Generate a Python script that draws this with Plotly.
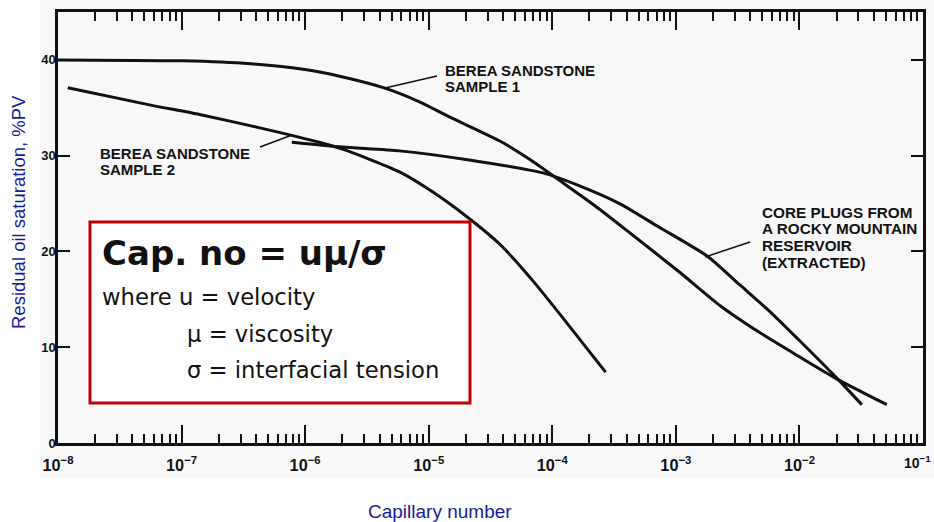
import plotly.graph_objects as go

# Residual oil saturation (%PV) against capillary number
sample1_nc = [1.0e-8, 1.03e-7, 3.6e-7, 1.0e-6, 1.9e-6, 4.3e-6, 8.5e-6, 1.5e-5,
              3.8e-5, 6.6e-5, 1.15e-4, 2.2e-4, 4.0e-4, 1.08e-3, 2.3e-3, 4.8e-3,
              1.0e-2, 2.0e-2, 5.1e-2]
sample1_sor = [40.0, 39.9, 39.6, 39.0, 38.3, 37.1, 35.6, 34.0,
               31.5, 29.6, 27.4, 24.8, 22.2, 17.8, 14.3, 11.5,
               9.0, 6.7, 4.0]

sample2_nc = [1.2e-8, 5.5e-8, 1.4e-7, 4.3e-7, 1.3e-6, 2.1e-6, 5.8e-6, 1.08e-5,
              2.0e-5, 3.8e-5, 7.0e-5, 1.3e-4, 2.7e-4]
sample2_sor = [37.1, 35.3, 34.3, 32.9, 31.4, 30.6, 28.3, 26.2,
               23.7, 20.7, 16.9, 12.6, 7.4]

core_nc = [7.8e-7, 2.0e-6, 5.8e-6, 2.0e-5, 8.4e-5, 1.7e-4, 3.5e-4, 7.4e-4,
           1.8e-3, 3.3e-3, 5.8e-3, 1.0e-2, 2.0e-2, 3.2e-2]
core_sor = [31.4, 30.9, 30.5, 29.6, 28.2, 26.8, 25.0, 22.5,
            19.5, 16.5, 13.7, 10.7, 6.8, 4.0]

y_ticks = [0, 10, 20, 30, 40]
x_last_tick = "10<sup>−1</sup>"

W, H = 934, 522
L, R, T, B = 58, 11, 12, 79
PW, PH = W - L - R, H - T - B


def fx(px):
    return (px - L) / PW


def fy(py):
    return (H - B - py) / PH


INK = "#111111"
BLUE = "#1a1a9c"
RED = "#c00000"

fig = go.Figure()
for xs, ys in [(sample1_nc, sample1_sor), (sample2_nc, sample2_sor), (core_nc, core_sor)]:
    fig.add_trace(go.Scatter(x=xs, y=ys, mode="lines",
                             line=dict(color=INK, width=3, shape="spline", smoothing=0.6),
                             showlegend=False, hoverinfo="skip"))

shapes = []
# light scan backdrop
shapes.append(dict(type="rect", xref="paper", yref="paper", layer="below",
                   x0=fx(40), x1=fx(934), y0=fy(478), y1=fy(0),
                   fillcolor="#f8f8f8", line=dict(width=0)))
# leader lines for curve labels
for (x0, y0, x1, y1) in [(437, 76, 385, 88), (260, 147, 292, 135), (750, 242, 705, 257)]:
    shapes.append(dict(type="line", xref="paper", yref="paper", layer="above",
                       x0=fx(x0), y0=fy(y0), x1=fx(x1), y1=fy(y1),
                       line=dict(color=INK, width=1.5)))
# definition box
shapes.append(dict(type="rect", xref="paper", yref="paper", layer="above",
                   x0=fx(90), x1=fx(470), y0=fy(403), y1=fy(222),
                   fillcolor="white", line=dict(color=RED, width=3)))

annotations = []


def label(text, px, py, size, family="Liberation Sans", color=INK, bold=False, angle=0,
          xanchor="left"):
    if bold:
        text = "<b>" + text + "</b>"
    annotations.append(dict(text=text, xref="paper", yref="paper", x=fx(px), y=fy(py),
                            xanchor=xanchor, yanchor="middle", showarrow=False,
                            textangle=angle,
                            font=dict(family=family, size=size, color=color)))


# curve labels
label("BEREA SANDSTONE", 443, 70, 15, bold=True)
label("SAMPLE 1", 443, 86, 15, bold=True)
label("BEREA SANDSTONE", 98, 153, 15, bold=True)
label("SAMPLE 2", 98, 170, 15, bold=True)
for i, line in enumerate(["CORE PLUGS FROM", "A ROCKY MOUNTAIN", "RESERVOIR", "(EXTRACTED)"]):
    label(line, 760, 212 + i * 16.8, 15.3, bold=True)

# definition text
label("Cap. no = uμ/σ", 100, 253, 34, family="DejaVu Sans", bold=True)
label("where u = velocity", 100, 297, 22.7, family="DejaVu Sans")
label("μ = viscosity", 185, 334, 22.7, family="DejaVu Sans")
label("σ = interfacial tension", 185, 370, 22.7, family="DejaVu Sans")

# axis titles
label("Residual oil saturation, %PV", 18, 212, 18.5, color=BLUE, angle=-90, xanchor="center")
label("Capillary number", 440, 511, 19, color=BLUE, xanchor="center")

# last decade label, kept inside the page edge
label(x_last_tick, 933, 462, 14, bold=True, xanchor="right")

tick_font = dict(family="Liberation Sans", size=13, color=INK, weight="bold")

fig.update_layout(
    width=W, height=H,
    margin=dict(l=L, r=R, t=T, b=B, autoexpand=False),
    paper_bgcolor="white", plot_bgcolor="rgba(0,0,0,0)",
    shapes=shapes, annotations=annotations,
    xaxis=dict(type="log", range=[-8, -1], dtick=1, exponentformat="power",
               showgrid=False, zeroline=False, automargin=False,
               showline=True, linecolor=INK, linewidth=2.5, mirror="ticks",
               ticks="inside", ticklen=18, tickwidth=2, tickcolor=INK,
               minor=dict(ticks="inside", ticklen=9, tickwidth=2, tickcolor=INK,
                          dtick="D1", showgrid=False),
               ticklabelstandoff=6,
               tickfont=tick_font),
    yaxis=dict(range=[0, 45], tickvals=y_ticks, showgrid=False, zeroline=False,
               automargin=False,
               showline=True, linecolor=INK, linewidth=2.5, mirror="ticks",
               ticks="inside", ticklen=12, tickwidth=2, tickcolor=INK,
               ticklabelstandoff=-3,
               tickfont=tick_font),
)

fig.write_html("out.html")
